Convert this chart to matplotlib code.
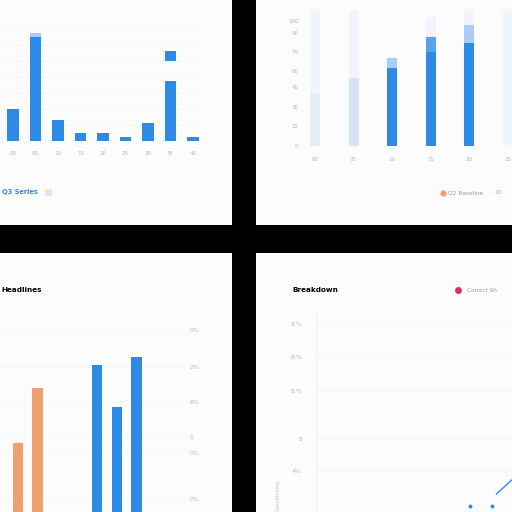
import numpy as np
import matplotlib.pyplot as plt

W, H = 512, 512

# top-left panel: single column series with one floating cap
tl_labels = ["00", "05", "10", "15", "20", "25", "30", "35", "40"]
tl_values = [32, 104, 21, 8, 8, 4, 18, 60, 4]
tl_cap_bottom = [0, 0, 0, 0, 0, 0, 0, 80, 0]
tl_cap_height = [0, 4, 0, 0, 0, 0, 0, 10, 0]

# top-right panel: tracks, main bars and caps
tr_labels = ["00", "05", "10", "15", "20", "25"]
tr_track = [136, 136, 0, 129, 146, 146]
tr_main = [53, 68, 78, 94, 103, 0]
tr_cap = [0, 0, 10, 15, 18, 0]
tr_yticks = [0, 20, 39, 59, 75, 94, 113, 125]
tr_ytick_labels = ["0", "15", "30", "45", "60", "75", "90", "100"]

# bottom-left panel: two groups
bl_orange = [69, 124, np.nan, np.nan, np.nan, np.nan, np.nan]
bl_blue = [np.nan, np.nan, np.nan, np.nan, 147, 105, 155]
bl_yticks = [13, 59, 75, 110, 145, 182]
bl_ytick_labels = ["0%", "0%", "1", "6%", "2%", "0%"]

# bottom-right panel: line chart
br_dots_x = [7, 8]
br_dots_y = [6, 6]
br_line_x = [8.2, 9, 10]
br_line_y = [18, 34, 55]
br_yticks = [41, 73, 121, 155, 188]
br_ytick_labels = ["4%", "8", "8.%", "8.%", "8.%"]


def rect(x0, y0, x1, y1):
    return [x0 / W, 1 - y1 / H, (x1 - x0) / W, (y1 - y0) / H]


def panel(x0, y0, x1, y1):
    ax = fig.add_axes(rect(x0, y0, x1, y1))
    ax.set_facecolor("#fcfcfc")
    ax.set_xlim(x0, x1)
    ax.set_ylim(y1, y0)
    ax.set_xticks([])
    ax.set_yticks([])
    for s in ax.spines.values():
        s.set_visible(False)
    return ax


def clean(ax):
    for s in ax.spines.values():
        s.set_visible(False)
    ax.set_facecolor("none")
    ax.tick_params(length=0, labelsize=4, labelcolor="#b5b5b5")


fig = plt.figure(figsize=(W / 100, H / 100), dpi=100, facecolor="black")

BLUE = "#2d8ae5"
ORANGE = "#f0a070"

# ---- top-left
p1 = panel(0, 0, 232, 225)
ax1 = fig.add_axes(rect(0, 21, 200, 141))
clean(ax1)
x1 = np.arange(len(tl_values))
ax1.bar(x1, tl_values, width=0.49, color=BLUE, zorder=3)
ax1.bar(x1, tl_cap_height, bottom=[v if b == 0 else b for v, b in zip(tl_values, tl_cap_bottom)],
        width=0.49, color=[BLUE if b else "#a9cdf3" for b in tl_cap_bottom], zorder=3)
ax1.set_xlim(-13 / 22.5, (200 - 13) / 22.5)
ax1.set_ylim(0, 120)
ax1.set_yticks(np.arange(0, 121, 16))
ax1.set_yticklabels([])
ax1.grid(axis="y", color="#f3f3f3", lw=0.6)
ax1.set_xticks(x1)
ax1.set_xticklabels(tl_labels)
ax1.tick_params(axis="x", pad=7)
p1.text(2, 192, "Q3 Series", color=BLUE, fontsize=4.8, va="center", fontweight="bold")
p1.plot([48], [192], marker="s", ms=4, color="#e6e6e6", ls="none")

# ---- top-right
p2 = panel(256, 0, 512, 225)
ax2 = fig.add_axes(rect(300, 10, 512, 146))
clean(ax2)
x2 = np.arange(len(tr_main))
ax2.bar(x2, tr_track, width=0.26, color="#f0f4fb", zorder=1)
main_cols = ["#e6edf8", "#d6e5f6", BLUE, BLUE, BLUE, BLUE]
ax2.bar(x2, tr_main, width=0.26, color=main_cols, zorder=2)
cap_cols = ["#ffffff", "#ffffff", "#a9cdf3", "#5aa3ea", "#a9cdf3", "#ffffff"]
ax2.bar(x2, tr_cap, bottom=tr_main, width=0.26, color=cap_cols, zorder=2)
ax2.set_xlim(-15 / 38.6, (512 - 315) / 38.6)
ax2.set_ylim(0, 136)
ax2.set_yticks(tr_yticks)
ax2.set_yticklabels(tr_ytick_labels)
ax2.set_xticks(x2)
ax2.set_xticklabels(tr_labels)
ax2.tick_params(axis="x", pad=8)
ax2.tick_params(axis="y", pad=1)
p2.plot([443], [193], marker="o", ms=3.5, color=ORANGE, ls="none")
p2.text(448, 193, "Q2 Baseline", color="#9a9a9a", fontsize=4.2, va="center")
p2.text(495, 193, "20", color=ORANGE, fontsize=4.2, va="center")

# ---- bottom-left
p3 = panel(0, 253, 232, 512)
p3.text(1, 290, "Headlines", color="black", fontsize=5.2, fontweight="bold", va="center")
ax3 = fig.add_axes(rect(0, 312, 185, 512))
clean(ax3)
x3 = np.arange(len(bl_orange))
ax3.bar(x3, bl_orange, width=0.52, color=ORANGE, zorder=3)
ax3.bar(x3, bl_blue, width=0.52, color=BLUE, zorder=3)
ax3.set_xlim(-0.9, 8.45)
ax3.set_ylim(0, 200)
ax3.set_xticks([])
ax3.yaxis.tick_right()
ax3.set_yticks(bl_yticks)
ax3.set_yticklabels(bl_ytick_labels)
ax3.tick_params(axis="y", pad=3, labelsize=4.5)
ax3.grid(axis="y", color="#f5f5f5", lw=0.6)

# ---- bottom-right
p4 = panel(256, 253, 512, 512)
p4.text(292, 290, "Breakdown", color="black", fontsize=5.2, fontweight="bold", va="center")
p4.plot([458], [290], marker="o", ms=4, color="#e0305a", ls="none")
p4.text(467, 290, "Conect Sh", color="#9a9a9a", fontsize=4.2, va="center")
ax4 = fig.add_axes(rect(316, 312, 512, 512))
clean(ax4)
ax4.spines["left"].set_visible(True)
ax4.spines["left"].set_color("#f0f0f0")
ax4.plot(br_dots_x, br_dots_y, marker="o", ms=1.8, ls="none", color=BLUE)
ax4.plot(br_line_x, br_line_y, color=BLUE, lw=1)
ax4.set_xlim(0, 196 / 22)
ax4.set_ylim(0, 200)
ax4.set_xticks([])
ax4.set_yticks(br_yticks)
ax4.set_yticklabels(br_ytick_labels)
ax4.tick_params(axis="y", pad=10, labelsize=4.5)
ax4.grid(axis="y", color="#f5f5f5", lw=0.6)
ax4.set_ylabel("Conversions", fontsize=3.8, color="#c0c0c0")
ax4.yaxis.set_label_coords(-0.18, 0.08)

fig.savefig("out.png", dpi=100, facecolor="black")
